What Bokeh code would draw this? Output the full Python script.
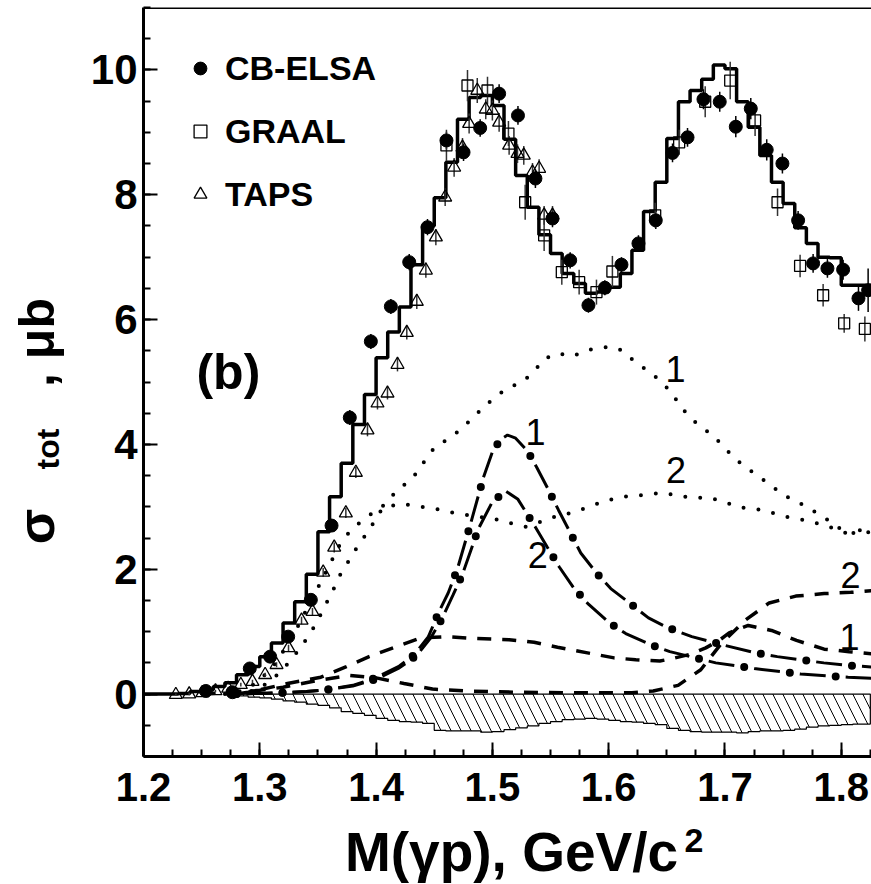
import numpy as np
from bokeh.plotting import figure
from bokeh.layouts import row, column
from bokeh.models import (Range1d, SingleIntervalTicker, PrintfTickFormatter, Label,
                          Span, Legend, LegendItem)
from bokeh.core.properties import value
from bokeh.embed import file_html
from bokeh.resources import INLINE

FONT = "Liberation Sans"

# ---------------- data ----------------
# total fit histogram (bins of 0.01 from 1.20)
HIST_EDGES = np.round(np.arange(1.20, 1.8301, 0.01), 3)
HIST_VALS = [0.0, 0.0, 0.0, 0.01, 0.04, 0.07, 0.12, 0.18, 0.31, 0.44,
             0.60, 0.82, 1.14, 1.48, 1.92, 2.60, 3.16, 3.70, 4.32, 4.80,
             5.39, 5.80, 6.20, 6.88, 7.50, 7.95, 8.52, 9.21, 9.56, 9.59,
             9.43, 8.89, 8.31, 7.80, 7.36, 7.06, 6.74, 6.58, 6.42, 6.44,
             6.52, 6.74, 7.11, 7.73, 8.20, 8.90, 9.49, 9.67, 9.85, 10.08,
             10.02, 9.49, 9.08, 8.63, 8.20, 7.86, 7.47, 7.22, 7.00, 6.99,
             6.55, 6.55, 6.55]

# hatched (negative) band
HATCH_EDGES = list(np.round(np.arange(1.27, 1.8201, 0.01), 3)) + [1.825]
HATCH_VALS = [-0.01, -0.03, -0.05, -0.06, -0.08, -0.11, -0.13, -0.16, -0.18, -0.22,
              -0.28, -0.31, -0.34, -0.39, -0.42, -0.44, -0.45, -0.47, -0.58, -0.59,
              -0.59, -0.59, -0.61, -0.60, -0.57, -0.54, -0.51, -0.47, -0.44, -0.41,
              -0.40, -0.39, -0.40, -0.42, -0.44, -0.45, -0.47, -0.49, -0.55, -0.58,
              -0.60, -0.61, -0.61, -0.61, -0.62, -0.60, -0.59, -0.59, -0.58, -0.56,
              -0.53, -0.51, -0.50, -0.49, -0.48, -0.48]

# CB-ELSA
CB_X = [1.2536, 1.2765, 1.2914, 1.3089, 1.3244, 1.3439, 1.3617, 1.3774, 1.3955, 1.4127,
        1.4285, 1.4442, 1.4605, 1.4752, 1.4895, 1.5058, 1.5220, 1.5370, 1.5517, 1.5669,
        1.5826, 1.5967, 1.6110, 1.6256, 1.6405, 1.6549, 1.6678, 1.6815, 1.6955, 1.7093,
        1.7222, 1.7359, 1.7494, 1.7629, 1.7758, 1.7881, 1.8016, 1.8148, 1.8231]
CB_Y = [0.05, 0.03, 0.41, 0.60, 0.92, 1.51, 2.70, 4.43, 5.65, 6.21,
        6.92, 7.48, 8.87, 8.68, 9.07, 9.62, 9.27, 8.26, 7.62, 6.95,
        6.23, 6.51, 6.88, 7.22, 7.59, 8.67, 8.92, 9.53, 9.49, 9.09,
        9.38, 8.72, 8.50, 7.59, 6.90, 6.82, 6.80, 6.34, 6.47]
CB_ERR = [0.03, 0.03, 0.05, 0.06, 0.07, 0.08, 0.10, 0.12, 0.12, 0.12,
          0.13, 0.13, 0.14, 0.14, 0.14, 0.15, 0.15, 0.15, 0.14, 0.13,
          0.12, 0.12, 0.12, 0.13, 0.14, 0.15, 0.15, 0.16, 0.16, 0.17,
          0.17, 0.17, 0.16, 0.15, 0.15, 0.15, 0.16, 0.20, 0.35]

# GRAAL
GR_X = [1.4605, 1.4786, 1.4958, 1.5138, 1.5282, 1.5445, 1.5597, 1.5746, 1.5895, 1.6032,
        1.6400, 1.6606, 1.6830, 1.7045, 1.7259, 1.7452, 1.7646, 1.7844, 1.8025, 1.8203]
GR_Y = [8.79, 9.75, 9.67, 8.98, 7.88, 7.35, 6.76, 6.60, 6.44, 6.77,
        7.67, 8.84, 9.49, 9.83, 9.19, 7.88, 6.86, 6.39, 5.94, 5.85]
GR_ERR = [0.25, 0.25, 0.22, 0.20, 0.28, 0.25, 0.20, 0.20, 0.20, 0.25,
          0.20, 0.20, 0.25, 0.30, 0.25, 0.22, 0.18, 0.18, 0.15, 0.20]

# TAPS
TA_X = [1.2278, 1.2393, 1.2507, 1.2619, 1.2728, 1.2837, 1.2937, 1.3046, 1.3144, 1.3247,
        1.3359, 1.3453, 1.3545, 1.3640, 1.3740, 1.3826, 1.3926, 1.4012, 1.4098, 1.4184,
        1.4264, 1.4350, 1.4428, 1.4514, 1.4594, 1.4671, 1.4743, 1.4800, 1.4870, 1.4943,
        1.5000, 1.5058, 1.5144, 1.5216, 1.5270, 1.5345, 1.5402, 1.5445, 1.5517]
TA_Y = [-0.01, 0.00, 0.02, 0.05, 0.09, 0.15, 0.20, 0.31, 0.47, 0.74,
        1.18, 1.32, 1.95, 2.35, 2.90, 3.55, 4.23, 4.66, 4.82, 5.28,
        5.79, 6.29, 6.79, 7.32, 7.96, 8.44, 8.76, 9.14, 9.67, 9.37,
        9.35, 9.16, 8.79, 8.66, 8.63, 8.36, 8.42, 7.67, 7.67]
TA_ERR = [0.02, 0.02, 0.02, 0.02, 0.02, 0.03, 0.03, 0.03, 0.04, 0.05,
          0.06, 0.06, 0.07, 0.08, 0.08, 0.09, 0.10, 0.10, 0.10, 0.11,
          0.11, 0.12, 0.12, 0.13, 0.14, 0.15, 0.15, 0.16, 0.20, 0.16,
          0.16, 0.15, 0.15, 0.15, 0.15, 0.15, 0.15, 0.15, 0.15]

# dotted curves 1 and 2
D1_X = [1.27, 1.28, 1.29, 1.295, 1.31, 1.32, 1.3304, 1.3367, 1.3496, 1.3619,
        1.3677, 1.3763, 1.386, 1.3969, 1.4078, 1.414, 1.4242, 1.4342, 1.4416, 1.4502,
        1.4614, 1.4723, 1.4823, 1.4921, 1.5024, 1.513, 1.5259, 1.5359, 1.5445, 1.556,
        1.5689, 1.5818, 1.5955, 1.6084, 1.619, 1.6297, 1.6411, 1.6506, 1.6592, 1.667,
        1.6772, 1.6878, 1.6978, 1.707, 1.7174, 1.7288, 1.7403, 1.7509, 1.7624, 1.7746,
        1.7861, 1.7967, 1.8102, 1.8225, 1.83]
D1_Y = [0.0, 0.03, 0.09, 0.16, 0.40, 0.68, 1.00, 1.23, 1.69, 2.14,
        2.36, 2.58, 2.75, 2.90, 3.04, 3.18, 3.35, 3.53, 3.73, 3.95,
        4.08, 4.23, 4.41, 4.59, 4.76, 4.90, 5.00, 5.17, 5.37, 5.46,
        5.41, 5.51, 5.56, 5.54, 5.38, 5.23, 5.07, 4.90, 4.69, 4.49,
        4.31, 4.17, 3.99, 3.80, 3.64, 3.49, 3.33, 3.18, 3.08, 2.95,
        2.82, 2.67, 2.58, 2.60, 2.52]
D2_X = [1.28, 1.29, 1.30, 1.31, 1.32, 1.3287, 1.3367, 1.3441, 1.3511, 1.3568,
        1.3631, 1.3688, 1.376, 1.3832, 1.3906, 1.3984, 1.4055, 1.4216, 1.4347, 1.4485,
        1.4617, 1.4749, 1.488, 1.5015, 1.515, 1.5282, 1.5416, 1.5534, 1.5666, 1.5803,
        1.5932, 1.6061, 1.619, 1.6328, 1.6463, 1.6592, 1.6735, 1.6864, 1.6993, 1.7122,
        1.7256, 1.7394, 1.7523, 1.7652, 1.7787, 1.791, 1.8039, 1.8168, 1.83]
D2_Y = [0.0, 0.03, 0.10, 0.22, 0.40, 0.59, 0.79, 0.99, 1.23, 1.44,
        1.67, 1.90, 2.12, 2.34, 2.54, 2.76, 2.98, 3.05, 3.01, 2.98,
        2.92, 2.88, 2.84, 2.81, 2.74, 2.68, 2.76, 2.84, 2.90, 2.98,
        3.07, 3.14, 3.18, 3.19, 3.23, 3.18, 3.14, 3.15, 3.08, 2.99,
        2.97, 2.91, 2.84, 2.80, 2.74, 2.67, 2.58, 2.63, 2.56]

# dash-dot curves 1 and 2
DD1_X = [1.28, 1.30, 1.32, 1.34, 1.358, 1.38, 1.3983, 1.42, 1.4328, 1.445,
         1.4536, 1.462, 1.47, 1.4814, 1.4923, 1.50, 1.507, 1.513, 1.52, 1.53,
         1.5382, 1.548, 1.5568, 1.566, 1.576, 1.59, 1.6018, 1.62, 1.6342, 1.65,
         1.6715, 1.70, 1.7242, 1.745, 1.7646, 1.785, 1.8056, 1.83]
DD1_Y = [0.0, 0.01, 0.02, 0.04, 0.07, 0.14, 0.25, 0.45, 0.63, 0.92,
         1.30, 1.62, 2.01, 2.74, 3.47, 3.88, 4.08, 4.15, 4.10, 3.90,
         3.63, 3.28, 2.95, 2.62, 2.26, 1.93, 1.69, 1.43, 1.22, 1.07,
         0.92, 0.78, 0.67, 0.60, 0.55, 0.50, 0.46, 0.43]
DD2_X = [1.28, 1.30, 1.32, 1.34, 1.358, 1.38, 1.40, 1.42, 1.435, 1.447,
         1.457, 1.466, 1.4743, 1.488, 1.50, 1.5116, 1.522, 1.5368, 1.547, 1.5574,
         1.57, 1.5826, 1.60, 1.6147, 1.635, 1.6526, 1.6921, 1.7251, 1.7652, 1.8059,
         1.83]
DD2_Y = [0.0, 0.01, 0.02, 0.04, 0.07, 0.13, 0.24, 0.42, 0.62, 0.90,
         1.22, 1.58, 1.92, 2.65, 3.08, 3.25, 3.12, 2.68, 2.36, 2.04,
         1.70, 1.44, 1.15, 0.97, 0.80, 0.68, 0.50, 0.41, 0.32, 0.27,
         0.25]

# dashed curves 1 and 2
DS1_X = [1.28, 1.29, 1.30, 1.3238, 1.3525, 1.3745, 1.394, 1.4178, 1.4384, 1.46,
         1.4857, 1.5144, 1.5359, 1.556, 1.5818, 1.6047, 1.6233, 1.644, 1.6549, 1.6706,
         1.6835, 1.695, 1.7036, 1.72, 1.74, 1.7615, 1.7853, 1.8068, 1.83]
DS1_Y = [0.0, 0.03, 0.07, 0.17, 0.27, 0.44, 0.60, 0.76, 0.90, 0.92,
         0.89, 0.87, 0.83, 0.75, 0.66, 0.58, 0.55, 0.53, 0.57, 0.64,
         0.74, 0.86, 0.98, 1.10, 1.02, 0.86, 0.72, 0.68, 0.64]
DS2_X = [1.25, 1.28, 1.30, 1.32, 1.35, 1.3775, 1.40, 1.424, 1.4485, 1.4786,
         1.52, 1.58, 1.62, 1.6383, 1.6597, 1.6792, 1.6964, 1.7179, 1.738, 1.7609,
         1.7853, 1.8082, 1.83]
DS2_Y = [0.0, 0.03, 0.06, 0.11, 0.22, 0.30, 0.26, 0.17, 0.08, 0.05,
         0.03, 0.02, 0.02, 0.05, 0.14, 0.39, 0.80, 1.19, 1.46, 1.57,
         1.61, 1.63, 1.66]

# curve labels
LBL_TEXT = ["1", "2", "1", "2", "2", "1"]
LBL_X = [1.537, 1.539, 1.6575, 1.658, 1.808, 1.807]
LBL_Y = [4.20, 2.23, 5.21, 3.59, 1.90, 0.91]

# axis-title pieces
Y_TITLE = ["σ", "tot", ", μb"]
X_TITLE = ["M(γp), GeV/c", "2"]

# ---------------- main figure ----------------
p = figure(width=791, height=820, output_backend="svg", toolbar_location=None,
           x_range=Range1d(1.2, 1.826), y_range=Range1d(-1.0, 11.0),
           min_border_left=63, min_border_right=0, min_border_top=7,
           min_border_bottom=64)
p.outline_line_color = None
p.xgrid.visible = False
p.ygrid.visible = False

# hatched band
hx, hy = [HATCH_EDGES[0]], [0.0]
for i, v in enumerate(HATCH_VALS):
    hx += [HATCH_EDGES[i], HATCH_EDGES[i + 1]]
    hy += [v, v]
hx += [HATCH_EDGES[-1]]
hy += [0.0]
p.patch(hx, hy, fill_color=None, line_color="black", line_width=1.2,
        hatch_pattern="\\", hatch_scale=20, hatch_weight=1.0, hatch_color="black")

# dotted curves
for xs, ys in ((D1_X, D1_Y), (D2_X, D2_Y)):
    p.line(xs, ys, line_color="black", line_width=4, line_dash="0 15", line_cap="round")

# dashed curves
for xs, ys in ((DS1_X, DS1_Y), (DS2_X, DS2_Y)):
    p.line(xs, ys, line_color="black", line_width=3.5, line_dash="14 11")

# dash-dot curves (long dash + big dot)
for xs, ys in ((DD1_X, DD1_Y), (DD2_X, DD2_Y)):
    p.line(xs, ys, line_color="black", line_width=3, line_dash="0 10 26 10")
    p.line(xs, ys, line_color="black", line_width=8, line_dash="0 46", line_cap="round")

# histogram
p.step(list(HIST_EDGES), HIST_VALS + [HIST_VALS[-1]], mode="after",
       line_color="black", line_width=3.5)

# error bars
for xs, ys, es, col in ((CB_X, CB_Y, CB_ERR, "black"), (GR_X, GR_Y, GR_ERR, "#333333"),
                        (TA_X, TA_Y, TA_ERR, "#333333")):
    y0 = [a - b for a, b in zip(ys, es)]
    y1 = [a + b for a, b in zip(ys, es)]
    p.segment(x0=xs, y0=y0, x1=xs, y1=y1, line_color=col, line_width=1.5)

r_cb = p.scatter(CB_X, CB_Y, marker="circle", size=13, fill_color="black", line_color="black")
r_gr = p.scatter(GR_X, GR_Y, marker="square", size=11, fill_color=None,
                 line_color="black", line_width=1.3)
r_ta = p.scatter(TA_X, TA_Y, marker="triangle", size=13, fill_color=None,
                 line_color="black", line_width=1.3)

# curve labels
p.text(x=LBL_X, y=LBL_Y, text=LBL_TEXT, text_font=value(FONT), text_font_size="36px",
       text_align="center", text_baseline="middle", text_color="black")

p.add_layout(Label(x=1.273, y=5.16, text="(b)", text_font=FONT, text_font_size="50px",
                   text_font_style="bold", text_align="center", text_baseline="middle",
                   text_color="black"))

legend = Legend(items=[LegendItem(label="CB-ELSA", renderers=[r_cb]),
                       LegendItem(label="GRAAL", renderers=[r_gr]),
                       LegendItem(label="TAPS", renderers=[r_ta])],
                location="top_left", margin=41, padding=0, spacing=23,
                glyph_width=32, glyph_height=40, label_standoff=9,
                border_line_color=None, background_fill_alpha=0,
                label_text_font=FONT, label_text_font_style="bold",
                label_text_color="black",
                label_text_font_size="34px", label_text_baseline="middle")
p.add_layout(legend)

# top frame line
p.add_layout(Span(location=11.0, dimension="width", line_color="black", line_width=3))

# axes
p.xaxis.ticker = SingleIntervalTicker(interval=0.1, num_minor_ticks=4)
p.yaxis.ticker = SingleIntervalTicker(interval=2, num_minor_ticks=4)
p.xaxis.formatter = PrintfTickFormatter(format="%.1f")
for ax in (p.xaxis[0], p.yaxis[0]):
    ax.axis_line_width = 3
    ax.axis_line_color = "black"
    ax.major_tick_in = 14
    ax.major_tick_out = 0
    ax.minor_tick_in = 7
    ax.minor_tick_out = 0
    ax.major_tick_line_width = 2
    ax.minor_tick_line_width = 2
    ax.major_tick_line_color = "black"
    ax.minor_tick_line_color = "black"
    ax.major_label_text_font = FONT
    ax.major_label_text_font_style = "bold"
    ax.major_label_text_color = "black"
p.xaxis.major_label_text_font_size = "40px"
p.yaxis.major_label_text_font_size = "42px"
p.xaxis.major_label_standoff = 16
p.yaxis.major_label_standoff = 6

# ---------------- y-title strip (left), shares the y scale ----------------
left = figure(width=80, height=820, output_backend="svg", toolbar_location=None,
              x_range=Range1d(0, 80), y_range=p.y_range,
              x_axis_location=None, y_axis_location=None, min_border=0)
left.outline_line_color = None
left.grid.visible = False
for txt, x, y, size in ((Y_TITLE[0], 35, 2.40, "52px"), (Y_TITLE[1], 47, 3.60, "32px"),
                        (Y_TITLE[2], 36, 4.92, "50px")):
    left.text(x=[x], y=[y], text=[txt], angle=np.pi / 2, text_font=value(FONT),
              text_font_size=size, text_font_style="bold", text_color="black",
              text_align="left", text_baseline="middle")

# ---------------- x-title strip (bottom) ----------------
bottom = figure(width=871, height=64, output_backend="svg", toolbar_location=None,
                x_range=Range1d(0, 871), y_range=Range1d(0, 64),
                x_axis_location=None, y_axis_location=None, min_border=0)
bottom.outline_line_color = None
bottom.grid.visible = False
bottom.text(x=[511], y=[33], text=[X_TITLE[0]], text_font=value(FONT), text_font_size="55px",
            text_font_style="bold", text_color="black", text_align="center",
            text_baseline="middle")
bottom.text(x=[684], y=[44], text=[X_TITLE[1]], text_font=value(FONT), text_font_size="34px",
            text_font_style="bold", text_color="black", text_align="left",
            text_baseline="middle")

layout = column(row(left, p, spacing=0), bottom, spacing=0)
open("out.html", "w").write(file_html(layout, INLINE, title="sigma_tot"))
